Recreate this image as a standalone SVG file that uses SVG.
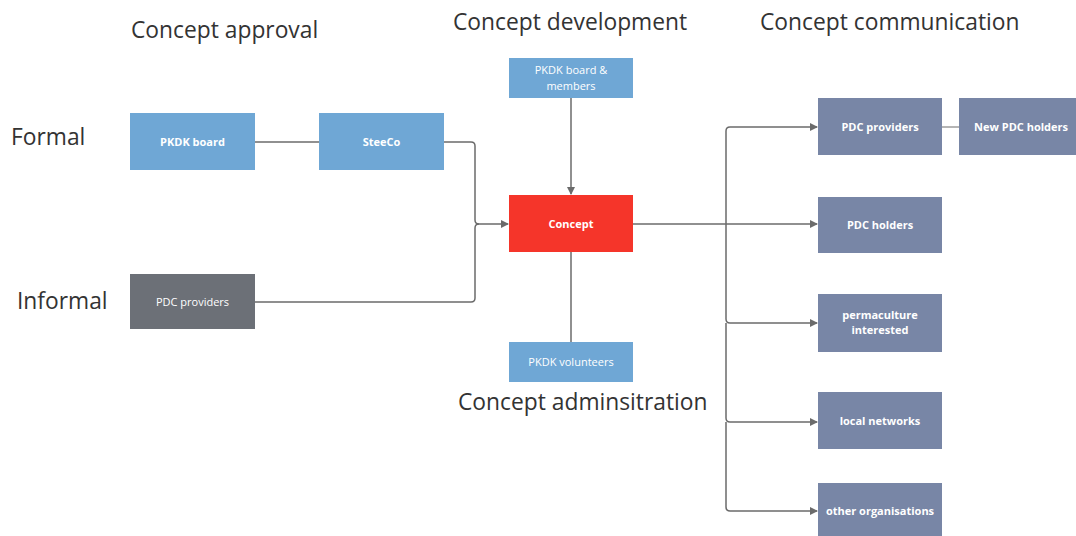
<svg xmlns="http://www.w3.org/2000/svg" width="1076" height="536" viewBox="0 0 1076 536">
<defs>
<style>
.h{font-family:"Open Sans","Liberation Sans",sans-serif;font-size:22.8px;fill:#333;}
.t{font-family:"Open Sans","Liberation Sans",sans-serif;font-size:11px;fill:#fff;text-anchor:middle;}
.b{font-weight:bold;}
.blue{fill:#6fa7d5;}
.gray{fill:#6c7077;}
.slate{fill:#7886a6;}
.red{fill:#f5352a;}
.c{fill:none;stroke:#6b6b6b;stroke-width:1.5;}
</style>
<marker id="ah" markerWidth="8" markerHeight="8" refX="7" refY="4" orient="auto" markerUnits="userSpaceOnUse">
<path d="M0,0 L8,4 L0,8 z" fill="#6b6b6b"/>
</marker>
</defs>
<rect width="1076" height="536" fill="#fff"/>
<g id="headings">
<text class="h" x="131" y="38">Concept approval</text>
<text class="h" x="453" y="30">Concept development</text>
<text class="h" x="760" y="30">Concept communication</text>
<text class="h" x="11" y="145">Formal</text>
<text class="h" x="17" y="309">Informal</text>
<text class="h" x="458" y="410">Concept adminsitration</text>
</g>
<g id="connectors">
<path class="c" d="M255,142 H319"/>
<path class="c" d="M444,142 H471 Q475,142 475,146 V220 Q475,224 479,224 H508" marker-end="url(#ah)"/>
<path class="c" d="M255,302 H471 Q475,302 475,298 V228 Q475,224 479,224"/>
<path class="c" d="M571,98 V194" marker-end="url(#ah)"/>
<path class="c" d="M571,252 V342"/>
<path class="c" d="M633,224 H817" marker-end="url(#ah)"/>
<path class="c" d="M726,224 V131 Q726,127 730,127 H817" marker-end="url(#ah)"/>
<path class="c" d="M726,224 V319 Q726,323 730,323 H817" marker-end="url(#ah)"/>
<path class="c" d="M726,323 V418 Q726,422 730,422 H817" marker-end="url(#ah)"/>
<path class="c" d="M726,422 V507 Q726,511 730,511 H817" marker-end="url(#ah)"/>
<path class="c" d="M942,127 H959" style="stroke-width:1"/>
</g>
<g id="pkdk-board">
<rect class="blue" x="130" y="113" width="125" height="57"/>
<text class="t b" x="192.5" y="145.5">PKDK board</text>
</g>
<g id="steeco">
<rect class="blue" x="319" y="113" width="125" height="57"/>
<text class="t b" x="381.5" y="145.5">SteeCo</text>
</g>
<g id="pdc-providers-informal">
<rect class="gray" x="130" y="274" width="125" height="55"/>
<text class="t" x="192.5" y="305.5">PDC providers</text>
</g>
<g id="pkdk-board-members">
<rect class="blue" x="509" y="58" width="124" height="40"/>
<text class="t" x="571" y="74">PKDK board &amp;</text>
<text class="t" x="571" y="90">members</text>
</g>
<g id="concept">
<rect class="red" x="509" y="195" width="124" height="57"/>
<text class="t b" x="571" y="227.5">Concept</text>
</g>
<g id="pkdk-volunteers">
<rect class="blue" x="509" y="342" width="124" height="40"/>
<text class="t" x="571" y="365.5">PKDK volunteers</text>
</g>
<g id="pdc-providers">
<rect class="slate" x="818" y="98" width="124" height="57"/>
<text class="t b" x="880" y="130.5">PDC providers</text>
</g>
<g id="new-pdc-holders">
<rect class="slate" x="959" y="98" width="117" height="57"/>
<text class="t b" x="1021" y="130.5">New PDC holders</text>
</g>
<g id="pdc-holders">
<rect class="slate" x="818" y="197" width="124" height="56"/>
<text class="t b" x="880" y="228.5">PDC holders</text>
</g>
<g id="permaculture-interested">
<rect class="slate" x="818" y="294" width="124" height="58"/>
<text class="t b" x="880" y="319">permaculture</text>
<text class="t b" x="880" y="334">interested</text>
</g>
<g id="local-networks">
<rect class="slate" x="818" y="392" width="124" height="57"/>
<text class="t b" x="880" y="425">local networks</text>
</g>
<g id="other-organisations">
<rect class="slate" x="818" y="483" width="124" height="55"/>
<text class="t b" x="880" y="515">other organisations</text>
</g>
</svg>
